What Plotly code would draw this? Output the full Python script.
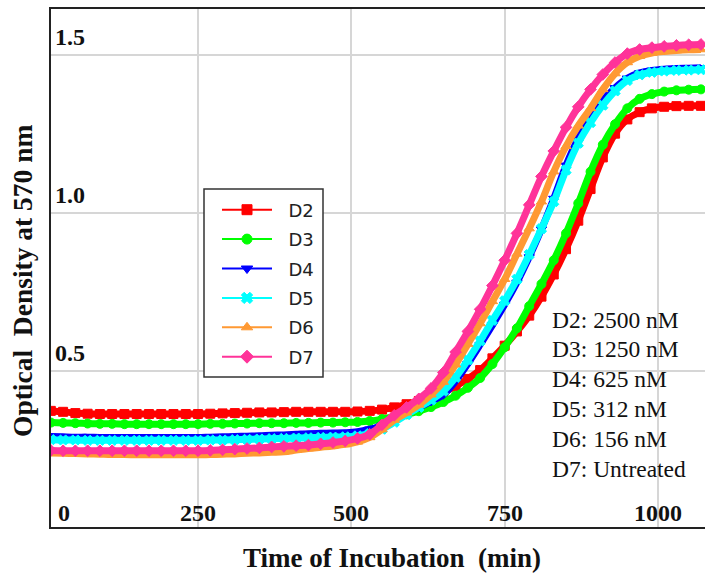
import plotly.graph_objects as go

# Sampling times (min) of the plate reader
TIME = [10, 30, 50, 70, 90, 110, 130, 150, 170, 190, 210, 230, 250, 270,
        290, 310, 330, 350, 370, 390, 410, 430, 450, 470, 490, 510, 530, 550,
        570, 590, 610, 630, 650, 670, 690, 710, 730, 750, 770, 790, 810, 830,
        850, 870, 890, 910, 930, 950, 970, 990, 1010, 1030, 1050, 1070]

# Optical density at 570 nm for each dose
D2 = [0.374, 0.371, 0.367, 0.365, 0.364, 0.364, 0.364, 0.364, 0.364, 0.364,
      0.364, 0.364, 0.364, 0.365, 0.366, 0.367, 0.368, 0.369, 0.369, 0.370,
      0.371, 0.371, 0.371, 0.371, 0.371, 0.372, 0.374, 0.378, 0.385, 0.395,
      0.405, 0.418, 0.432, 0.452, 0.475, 0.503, 0.540, 0.580, 0.625, 0.675,
      0.735, 0.805, 0.885, 0.975, 1.075, 1.175, 1.250, 1.295, 1.318, 1.330,
      1.335, 1.337, 1.338, 1.338]
D3 = [0.337, 0.336, 0.335, 0.334, 0.333, 0.333, 0.332, 0.332, 0.332, 0.332,
      0.332, 0.332, 0.332, 0.333, 0.333, 0.334, 0.334, 0.335, 0.335, 0.335,
      0.336, 0.336, 0.337, 0.337, 0.338, 0.339, 0.342, 0.348, 0.356, 0.363,
      0.373, 0.386, 0.402, 0.422, 0.447, 0.478, 0.522, 0.575, 0.635, 0.705,
      0.775, 0.850, 0.935, 1.030, 1.130, 1.215, 1.280, 1.330, 1.360, 1.375,
      1.383, 1.387, 1.389, 1.390]
D4 = [0.293, 0.292, 0.291, 0.291, 0.290, 0.290, 0.290, 0.290, 0.290, 0.290,
      0.290, 0.290, 0.290, 0.291, 0.292, 0.293, 0.294, 0.295, 0.297, 0.298,
      0.300, 0.302, 0.303, 0.304, 0.305, 0.308, 0.316, 0.328, 0.348, 0.368,
      0.385, 0.404, 0.425, 0.468, 0.523, 0.583, 0.645, 0.710, 0.780, 0.860,
      0.948, 1.045, 1.150, 1.235, 1.300, 1.355, 1.395, 1.425, 1.442, 1.450,
      1.454, 1.456, 1.457, 1.458]
D5 = [0.283, 0.282, 0.282, 0.281, 0.281, 0.281, 0.281, 0.281, 0.281, 0.281,
      0.281, 0.281, 0.281, 0.282, 0.282, 0.283, 0.284, 0.285, 0.286, 0.287,
      0.288, 0.289, 0.290, 0.291, 0.292, 0.295, 0.302, 0.316, 0.338, 0.362,
      0.385, 0.408, 0.436, 0.480, 0.535, 0.595, 0.660, 0.722, 0.790, 0.868,
      0.950, 1.035, 1.135, 1.220, 1.285, 1.340, 1.385, 1.418, 1.436, 1.444,
      1.448, 1.450, 1.451, 1.452]
D6 = [0.241, 0.240, 0.239, 0.238, 0.237, 0.236, 0.236, 0.235, 0.235, 0.235,
      0.235, 0.235, 0.235, 0.236, 0.237, 0.238, 0.240, 0.241, 0.243, 0.245,
      0.250, 0.255, 0.259, 0.263, 0.268, 0.276, 0.290, 0.315, 0.345, 0.368,
      0.393, 0.425, 0.465, 0.520, 0.585, 0.650, 0.720, 0.790, 0.870, 0.950,
      1.035, 1.130, 1.210, 1.275, 1.330, 1.390, 1.440, 1.475, 1.495, 1.505,
      1.510, 1.513, 1.515, 1.516]
D7 = [0.249, 0.248, 0.248, 0.248, 0.248, 0.248, 0.248, 0.248, 0.248, 0.248,
      0.248, 0.248, 0.248, 0.249, 0.251, 0.253, 0.255, 0.257, 0.260, 0.262,
      0.264, 0.266, 0.270, 0.274, 0.279, 0.287, 0.300, 0.330, 0.360, 0.385,
      0.412, 0.445, 0.495, 0.560, 0.625, 0.695, 0.770, 0.850, 0.935, 1.025,
      1.115, 1.195, 1.270, 1.335, 1.390, 1.437, 1.475, 1.503, 1.516, 1.522,
      1.526, 1.529, 1.531, 1.532]

SERIES_NAMES = ["D2", "D3", "D4", "D5", "D6", "D7"]
SERIES_VALUES = [D2, D3, D4, D5, D6, D7]
DOSE_LABELS = ["D2: 2500 nM", "D3: 1250 nM", "D4: 625 nM",
               "D5: 312 nM", "D6: 156 nM", "D7: Untreated"]

X_TICKS = [0, 250, 500, 750, 1000]
Y_TICKS = [0.5, 1.0, 1.5]
Y_TICK_TEXT = ["0.5", "1.0", "1.5"]

COLORS = ["#ff0000", "#00ff00", "#0000ff", "#00ffff", "#ff9933", "#ff3399"]
SYMBOLS = ["square", "circle", "triangle-down", "x", "triangle-up", "diamond"]

SERIF = "Liberation Serif, Times New Roman, serif"

W, H = 705, 575
M_L, M_R, M_T, M_B = 51, 0, 9, 48
PLOT_H = H - M_T - M_B


def ypaper(pix):
    return (H - M_B - pix) / PLOT_H


def xpaper(pix):
    return (pix - M_L) / (W - M_L - M_R)


fig = go.Figure()

for name, vals, col, sym in zip(SERIES_NAMES, SERIES_VALUES, COLORS, SYMBOLS):
    fig.add_trace(go.Scatter(
        x=TIME, y=vals, mode="lines+markers",
        line=dict(color=col, width=7, shape="spline"),
        marker=dict(symbol=sym, size=9, color=col,
                    line=dict(color=col, width=1)),
        showlegend=False, hoverinfo="skip"))

# legend entries (thin line + symbol)
for name, col, sym in zip(SERIES_NAMES, COLORS, SYMBOLS):
    fig.add_trace(go.Scatter(
        x=[None], y=[None], mode="lines+markers",
        name="\u00a0\u00a0" + name, legendgroup=name,
        line=dict(color=col, width=2),
        marker=dict(symbol=sym, size=10, color=col,
                    line=dict(color=col, width=1))))

annotations = []
for v in X_TICKS:
    font = dict(family=SERIF, size=24, color="#111")
    if v == 0:
        annotations.append(dict(x=0, xref="paper", xanchor="left", xshift=5,
                                y=0, yref="paper", yanchor="bottom", yshift=-1,
                                text="<b>%d</b>" % v, showarrow=False, font=font))
    else:
        annotations.append(dict(x=v, xref="x", xanchor="center",
                                y=0, yref="paper", yanchor="bottom", yshift=-1,
                                text="<b>%d</b>" % v, showarrow=False, font=font))

for v, txt in zip(Y_TICKS, Y_TICK_TEXT):
    annotations.append(dict(x=0, xref="paper", xanchor="left", xshift=2,
                            y=v, yref="y", yanchor="bottom", yshift=3,
                            text="<b>%s</b>" % txt, showarrow=False,
                            font=dict(family=SERIF, size=24, color="#111")))

for i, txt in enumerate(DOSE_LABELS):
    annotations.append(dict(x=xpaper(550), xref="paper", xanchor="left",
                            y=ypaper(319.5 + 29.9 * i), yref="paper",
                            yanchor="middle", text=txt, showarrow=False,
                            font=dict(family=SERIF, size=23.5, color="#111")))

annotations.append(dict(x=xpaper(392), xref="paper", xanchor="center",
                        y=ypaper(558), yref="paper", yanchor="middle",
                        text="<b>Time of Incubation\u00a0 (min)</b>",
                        showarrow=False,
                        font=dict(family=SERIF, size=27, color="#111")))
annotations.append(dict(x=xpaper(22), xref="paper", xanchor="center",
                        y=ypaper(281), yref="paper", yanchor="middle",
                        text="<b>Optical\u00a0 Density at 570 nm</b>",
                        textangle=-90, showarrow=False,
                        font=dict(family=SERIF, size=27.5, color="#111")))

# frame around the legend
shapes = [dict(type="rect", xref="paper", yref="paper",
               x0=xpaper(204), x1=xpaper(323), y0=ypaper(377), y1=ypaper(189),
               line=dict(color="#333", width=1.5), fillcolor="white",
               layer="above")]

fig.update_layout(
    width=W, height=H,
    margin=dict(l=M_L, r=M_R, t=M_T, b=M_B, pad=0),
    paper_bgcolor="white", plot_bgcolor="white",
    showlegend=True,
    legend=dict(x=xpaper(217), y=ypaper(191.5), xanchor="left", yanchor="top",
                borderwidth=0, bgcolor="rgba(0,0,0,0)",
                font=dict(family="DejaVu Sans", size=18, color="#222"),
                tracegroupgap=3, itemwidth=50,
                itemclick=False, itemdoubleclick=False),
    annotations=annotations,
    shapes=shapes,
    xaxis=dict(range=[10.3, 1076.6], tickvals=X_TICKS[1:], showticklabels=False,
               ticks="", showgrid=True, gridcolor="#d6d6d6", gridwidth=1.5,
               zeroline=False, showline=True, linecolor="#222", linewidth=2,
               mirror=True, fixedrange=True),
    yaxis=dict(range=[0.007, 1.644], tickvals=Y_TICKS, showticklabels=False,
               ticks="", showgrid=True, gridcolor="#d6d6d6", gridwidth=1.5,
               zeroline=False, showline=True, linecolor="#222", linewidth=2,
               mirror=False, fixedrange=True),
)

fig.write_html("out.html", config={"displayModeBar": False})
